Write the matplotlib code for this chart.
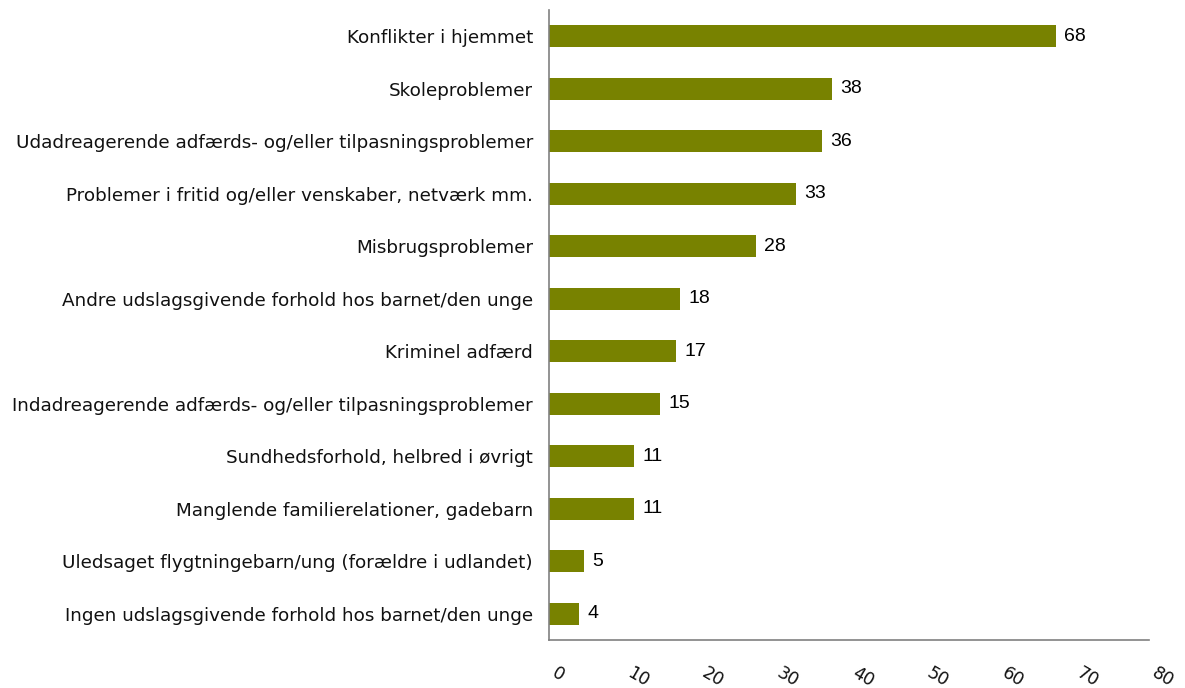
import matplotlib
matplotlib.use("Agg")
import matplotlib.pyplot as plt

categories = [
    "Konflikter i hjemmet",
    "Skoleproblemer",
    "Udadreagerende adfærds- og/eller tilpasningsproblemer",
    "Problemer i fritid og/eller venskaber, netværk mm.",
    "Misbrugsproblemer",
    "Andre udslagsgivende forhold hos barnet/den unge",
    "Kriminel adfærd",
    "Indadreagerende adfærds- og/eller tilpasningsproblemer",
    "Sundhedsforhold, helbred i øvrigt",
    "Manglende familierelationer, gadebarn",
    "Uledsaget flygtningebarn/ung (forældre i udlandet)",
    "Ingen udslagsgivende forhold hos barnet/den unge",
]
values = [67.6, 37.7, 36.4, 32.9, 27.6, 17.5, 16.9, 14.8, 11.3, 11.3, 4.7, 4.0]
value_labels = ["68", "38", "36", "33", "28", "18", "17", "15", "11", "11", "5", "4"]
x_ticks = [0, 10, 20, 30, 40, 50, 60, 70, 80]

fig = plt.figure(figsize=(11.85, 6.88), dpi=100)
ax = fig.add_axes([549 / 1185, 1 - 640 / 688, 600 / 1185, 630 / 688])

ypos = list(range(len(categories)))
ax.barh(ypos, values, height=0.42, color="#788200")
ax.set_ylim(len(categories) - 0.5, -0.5)
ax.set_xlim(0, 80)

ax.set_yticks(ypos)
ax.set_yticklabels(categories, fontsize=13.2, color="#111111", family="DejaVu Sans")
ax.tick_params(axis="y", length=0, pad=11.5)

ax.set_xticks(x_ticks)
ax.set_xticklabels([str(t) for t in x_ticks], rotation=-30, ha="left", va="top",
                   fontsize=12.5, family="DejaVu Sans", color="#111111")
ax.tick_params(axis="x", length=0, pad=17)

for y, v, lab in zip(ypos, values, value_labels):
    ax.text(v + 1.1, y, lab, va="center", ha="left", fontsize=14,
            family="Liberation Sans", color="#000000")

for s in ["top", "right"]:
    ax.spines[s].set_visible(False)
for s in ["left", "bottom"]:
    ax.spines[s].set_color("#808080")
    ax.spines[s].set_linewidth(1.2)

fig.savefig("out.png", dpi=100)
